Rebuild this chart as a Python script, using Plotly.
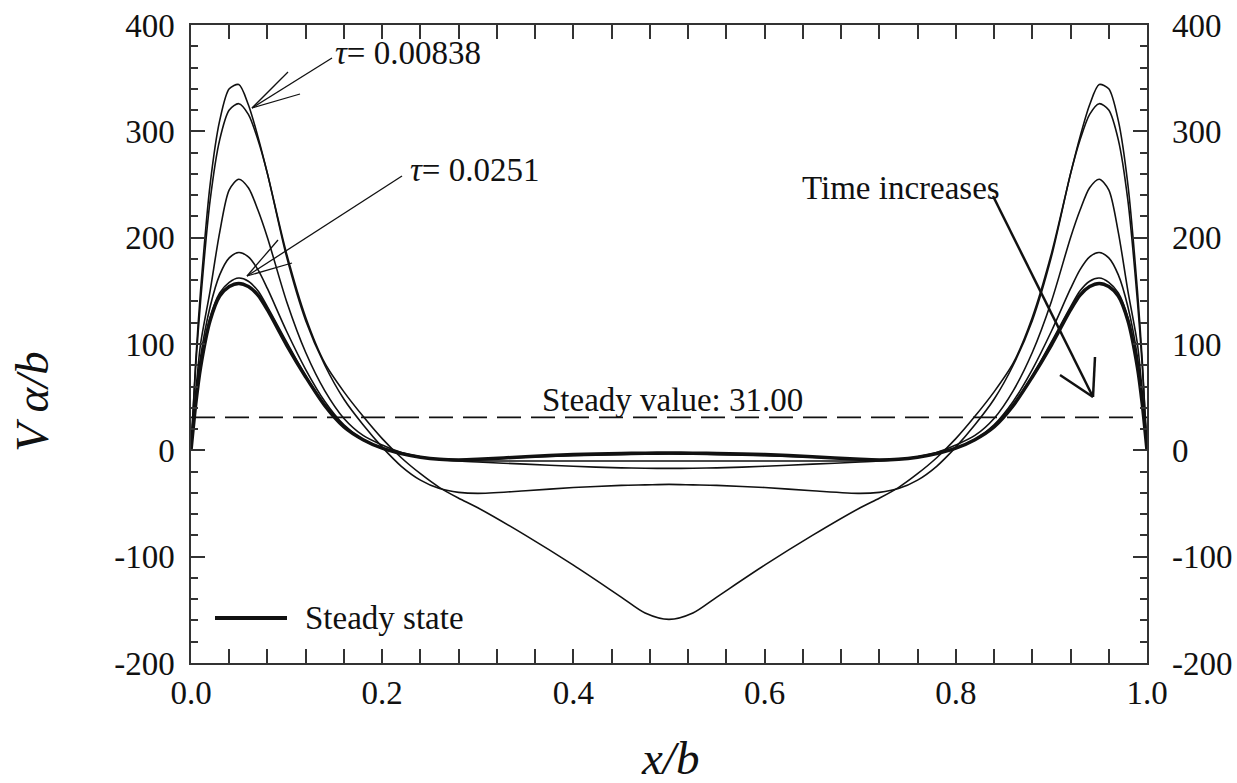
import plotly.graph_objects as go

# ---------------- data ----------------
x_pos = [0, 0.005, 0.01, 0.02, 0.03, 0.04, 0.05, 0.06, 0.07, 0.08, 0.1, 0.12, 0.14, 0.16,
         0.18, 0.2, 0.22, 0.24, 0.26, 0.28, 0.3, 0.35, 0.4, 0.45, 0.475, 0.5,
         0.525, 0.55, 0.6, 0.65, 0.7, 0.72, 0.74, 0.76, 0.78, 0.8, 0.82, 0.84, 0.86, 0.88, 0.9, 0.92,
         0.93, 0.94, 0.95, 0.96, 0.97, 0.98, 0.99, 0.995, 1.0]

curve_a = [0, 85, 150, 250, 310, 340, 344, 325, 295, 260, 185, 125, 82, 55,
           32, 11, -7, -22, -35, -45, -54, -80, -108, -138, -153, -159,
           -153, -138, -108, -80, -54, -45, -35, -22, -7, 11, 32, 55, 82, 125, 185, 260,
           295, 325, 344, 340, 310, 250, 150, 85, 0]

curve_b = [0, 80, 140, 235, 292, 320, 326, 316, 292, 260, 182, 122, 80, 48,
           24, 3, -15, -28, -36, -39.5, -40.5, -38, -35, -33, -32.5, -32,
           -32.5, -33, -35, -38, -40.5, -39.5, -36, -28, -15, 3, 24, 48, 80, 122, 182, 260,
           292, 316, 326, 320, 292, 235, 140, 80, 0]

curve_c = [0, 55, 100, 150, 205, 245, 255, 247, 226, 200, 140, 92, 56, 30,
           14, 5, -2, -6, -8.5, -10, -11, -13, -15, -16.5, -16.8, -17,
           -16.8, -16.5, -15, -13, -11, -10, -8.5, -6, -2, 5, 14, 30, 56, 92, 140, 200,
           226, 247, 255, 245, 205, 150, 100, 55, 0]

curve_d = [0, 50, 88, 135, 165, 181, 186, 182, 170, 152, 112, 76, 46, 24,
           10, 2, -3, -6.5, -8.5, -9.5, -10, -10, -10, -10, -10, -10,
           -10, -10, -10, -10, -10, -9.5, -8.5, -6.5, -3, 2, 10, 24, 46, 76, 112, 152,
           170, 182, 186, 181, 165, 135, 88, 50, 0]

curve_e = [0, 45, 80, 125, 148, 158, 162, 159, 150, 135, 102, 70, 43, 22,
           10, 2, -3, -6.5, -8.5, -9, -8.5, -6.5, -5, -4, -3.7, -3.5,
           -3.7, -4, -5, -6.5, -8.5, -9, -8.5, -6.5, -3, 2, 10, 22, 43, 70, 102, 135,
           150, 159, 162, 158, 148, 125, 80, 45, 0]

steady = [0, 44, 78, 122, 145, 154, 157, 154, 146, 132, 99, 69, 42, 22,
          10, 2, -3, -6.5, -8.5, -9, -8.5, -6, -4, -3, -2.7, -2.5,
          -2.7, -3, -4, -6, -8.5, -9, -8.5, -6.5, -3, 2, 10, 22, 42, 69, 99, 132,
          146, 154, 157, 154, 145, 122, 78, 44, 0]

steady_value = 31.0
x_ticks = [0.0, 0.2, 0.4, 0.6, 0.8, 1.0]
x_tick_labels = ["0.0", "0.2", "0.4", "0.6", "0.8", "1.0"]
y_ticks = [-200, -100, 0, 100, 200, 300, 400]
y_tick_labels = ["-200", "-100", "0", "100", "200", "300", "400"]
tau_labels = ["0.00838", "0.0251"]

# ---------------- layout geometry ----------------
W, H = 1237, 783
ML, MR, MT, MB = 191, 90, 25, 120
PW, PH = W - ML - MR, H - MT - MB
FONT = "Liberation Serif"
INK = "#111111"
AX = "#333333"
FS = 33


def px(xp, yp):
    """pixel position -> paper coordinates (for annotation furniture only)"""
    return (xp - ML) / PW, (H - MB - yp) / PH


fig = go.Figure()

thin = [curve_a, curve_b, curve_c, curve_d, curve_e]
for c in thin:
    fig.add_trace(go.Scatter(x=x_pos, y=c, mode="lines",
                             line=dict(color=INK, width=1.6, shape="spline", smoothing=0.8),
                             showlegend=False, hoverinfo="skip"))
fig.add_trace(go.Scatter(x=x_pos, y=steady, mode="lines", name="Steady state",
                         line=dict(color=INK, width=3.5, shape="spline", smoothing=0.8),
                         showlegend=False))
fig.add_trace(go.Scatter(x=[0, 1], y=[steady_value, steady_value], mode="lines",
                         line=dict(color=INK, width=1.6, dash="24px,10px"),
                         showlegend=False))
# dummy trace to materialise the right-hand axis
fig.add_trace(go.Scatter(x=[None], y=[None], yaxis="y2", showlegend=False))

axis_common = dict(showline=True, linecolor=AX, linewidth=1.5, mirror="allticks",
                   ticks="inside", ticklen=14, tickwidth=1.5, tickcolor=AX,
                   showgrid=False, zeroline=False, automargin=False,
                   tickfont=dict(family=FONT, size=FS, color=INK))

fig.update_layout(
    width=W, height=H, margin=dict(l=ML, r=MR, t=MT, b=MB, autoexpand=False),
    paper_bgcolor="white", plot_bgcolor="white",
    font=dict(family=FONT, size=FS, color=INK),
    xaxis=dict(range=[0, 1], tickvals=x_ticks, ticktext=x_tick_labels,
               minor=dict(dtick=0.04, ticks="inside", ticklen=7, tickwidth=1.5, tickcolor=AX),
               ticklabelstandoff=0, **axis_common),
    yaxis=dict(range=[-200, 400], tickvals=y_ticks, ticktext=y_tick_labels,
               minor=dict(dtick=20, ticks="inside", ticklen=7, tickwidth=1.5, tickcolor=AX),
               ticklabelstandoff=8, **axis_common),
    yaxis2=dict(range=[-200, 400], overlaying="y", side="right", matches="y",
                tickvals=y_ticks, ticktext=y_tick_labels, ticks="", showline=False,
                showgrid=False, zeroline=False, ticklabelstandoff=24, automargin=False,
                tickfont=dict(family=FONT, size=FS, color=INK)),
    showlegend=False,
)

ann = []


def label(xp, yp, text, xanchor="left", **kw):
    x0, y0 = px(xp, yp)
    d = dict(x=x0, y=y0, xref="paper", yref="paper", text=text, showarrow=False,
             xanchor=xanchor, yanchor="middle")
    d.update(kw)
    ann.append(d)


# axis titles
label(670, 758, "<i>x/b</i>", xanchor="center", font=dict(size=47, family=FONT, color=INK))
label(32, 402, "<i>V α/b</i>", xanchor="center", textangle=-90,
      font=dict(size=47, family=FONT, color=INK))
# text labels
label(333, 53, "<i>τ</i>= " + tau_labels[0])
label(408, 170, "<i>τ</i>= " + tau_labels[1])
label(800, 188, "Time increases")
label(540, 400, "Steady value: %.2f" % steady_value)
label(303, 618, "Steady state")
fig.update_layout(annotations=ann)

shapes = []


def seg(p1, p2, w=1.3):
    a = px(*p1)
    b = px(*p2)
    shapes.append(dict(type="line", xref="paper", yref="paper", x0=a[0], y0=a[1],
                       x1=b[0], y1=b[1], line=dict(color=INK, width=w)))


# arrow for tau = 0.00838
seg((332, 58), (252, 108))
seg((252, 108), (288, 72))
seg((252, 108), (300, 94))
# arrow for tau = 0.0251
seg((402, 176), (247, 276))
seg((247, 276), (278, 240))
seg((247, 276), (292, 263))
# time increases arrow
seg((993, 196), (1093, 397), 2.5)
seg((1093, 397), (1095, 357), 2.5)
seg((1093, 397), (1060, 375), 2.5)
# legend sample line
seg((215, 618), (287, 618), 4)
fig.update_layout(shapes=shapes)

fig.write_html("out.html")
